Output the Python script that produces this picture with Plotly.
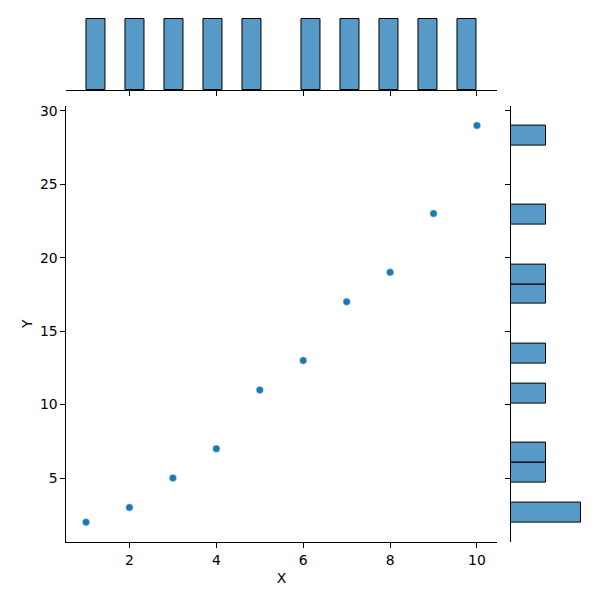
import numpy as np
import plotly.graph_objects as go

x_vals = [1, 2, 3, 4, 5, 6, 7, 8, 9, 10]
y_vals = [2, 3, 5, 7, 11, 13, 17, 19, 23, 29]
n_bins = 20

blue = "#1f77b4"
bar_fill = "rgba(31,119,180,0.75)"

# marginal counts, same binning as the seaborn reference
x_counts, x_edges = np.histogram(x_vals, bins=n_bins)
y_counts, y_edges = np.histogram(y_vals, bins=n_bins)
x_w = x_edges[1] - x_edges[0]
y_w = y_edges[1] - y_edges[0]

fig = go.Figure()

fig.add_trace(go.Scatter(x=x_vals, y=y_vals, mode="markers",
                         marker=dict(color=blue, size=7.5, line=dict(color="white", width=0.5)),
                         xaxis="x", yaxis="y"))

keep = x_counts > 0
fig.add_trace(go.Bar(x=x_edges[:-1][keep], y=x_counts[keep], width=x_w, offset=0,
                     marker=dict(color=bar_fill, line=dict(color="black", width=1)),
                     xaxis="x2", yaxis="y2"))

keep = y_counts > 0
fig.add_trace(go.Bar(y=y_edges[:-1][keep], x=y_counts[keep], width=y_w, offset=0, orientation="h",
                     marker=dict(color=bar_fill, line=dict(color="black", width=1)),
                     xaxis="x3", yaxis="y3"))

x_rng = [0.55, 10.45]
y_rng = [0.65, 30.35]
axis_common = dict(showgrid=False, zeroline=False, showline=True, linecolor="black", linewidth=1,
                   ticks="outside", ticklen=5, tickwidth=1, tickcolor="black", automargin=False)
title_font = dict(family="DejaVu Sans", size=13.9, color="black")

fig.update_layout(
    width=600, height=600,
    margin=dict(l=0, r=0, t=0, b=0),
    paper_bgcolor="white", plot_bgcolor="white",
    showlegend=False, bargap=0,
    font=dict(family="DejaVu Sans", size=13.9, color="black"),
    xaxis=dict(domain=[0.1108, 0.8275], range=x_rng, tickvals=[2, 4, 6, 8, 10],
               title=dict(text="X", standoff=6, font=title_font), anchor="y", **axis_common),
    yaxis=dict(domain=[0.0967, 0.824], range=y_rng, tickvals=[5, 10, 15, 20, 25, 30],
               title=dict(text="Y", standoff=4, font=title_font), anchor="x", **axis_common),
    xaxis2=dict(domain=[0.1108, 0.8275], range=x_rng, tickvals=[2, 4, 6, 8, 10],
                showticklabels=False, anchor="y2", **axis_common),
    yaxis2=dict(domain=[0.85, 0.975], range=[0, 1.05], visible=False, anchor="x2"),
    xaxis3=dict(domain=[0.8517, 0.975], range=[0, 2.1], visible=False, anchor="y3"),
    yaxis3=dict(domain=[0.0967, 0.824], range=y_rng, tickvals=[5, 10, 15, 20, 25, 30],
                showticklabels=False, anchor="x3", **axis_common),
)

fig.write_html("out.html", config={"displayModeBar": False},
               post_script="document.body.style.margin='0';")
